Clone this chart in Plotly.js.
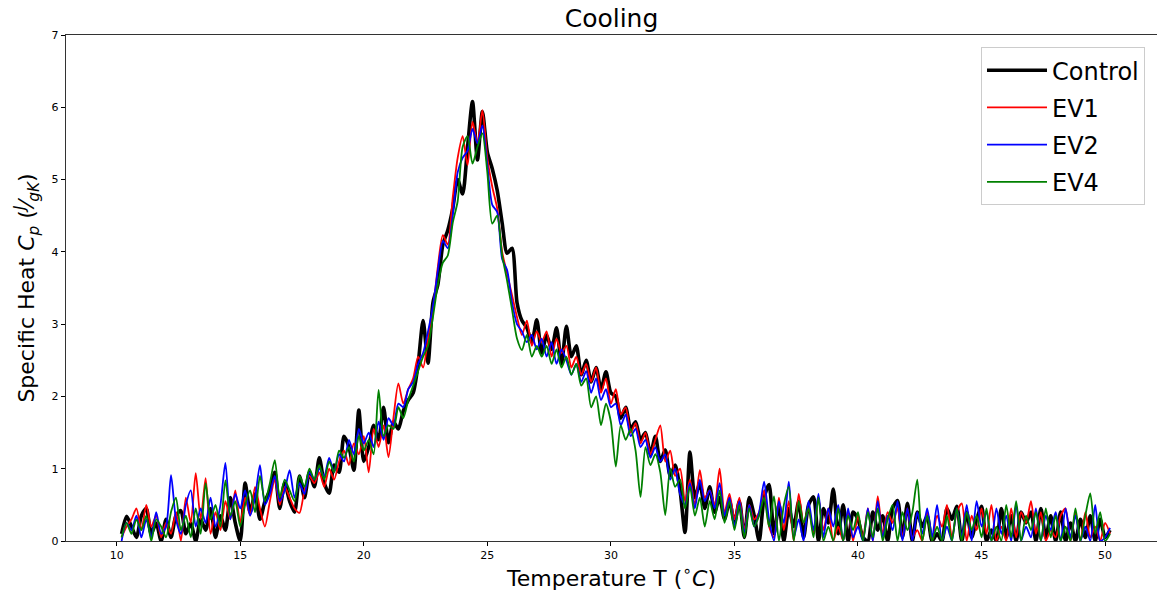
<!DOCTYPE html>
<html>
<head>
<meta charset="utf-8">
<script src="https://cdn.plot.ly/plotly-3.0.1.min.js"></script>
<style>html,body{margin:0;padding:0;background:#fff;}#chart{width:1157px;height:592px;}</style>
</head>
<body>
<div id="chart"></div>
<script>
const temperature = [
10.2,10.4,10.6,10.8,11.0,11.2,11.4,11.6,11.8,12.0,12.2,12.4,12.6,12.8,13.0,13.2,13.4,13.6,13.8,14.0,
14.2,14.4,14.6,14.8,15.0,15.2,15.4,15.6,15.8,16.0,16.2,16.4,16.6,16.8,17.0,17.2,17.4,17.6,17.8,18.0,
18.2,18.4,18.6,18.8,19.0,19.2,19.4,19.6,19.8,20.0,20.2,20.4,20.6,20.8,21.0,21.2,21.4,21.6,21.8,22.0,
22.2,22.4,22.6,22.8,23.0,23.2,23.4,23.6,23.8,24.0,24.2,24.4,24.6,24.8,25.0,25.2,25.4,25.6,25.8,26.0,
26.2,26.4,26.6,26.8,27.0,27.2,27.4,27.6,27.8,28.0,28.2,28.4,28.6,28.8,29.0,29.2,29.4,29.6,29.8,30.0,
30.2,30.4,30.6,30.8,31.0,31.2,31.4,31.6,31.8,32.0,32.2,32.4,32.6,32.8,33.0,33.2,33.4,33.6,33.8,34.0,
34.2,34.4,34.6,34.8,35.0,35.2,35.4,35.6,35.8,36.0,36.2,36.4,36.6,36.8,37.0,37.2,37.4,37.6,37.8,38.0,
38.2,38.4,38.6,38.8,39.0,39.2,39.4,39.6,39.8,40.0,40.2,40.4,40.6,40.8,41.0,41.2,41.4,41.6,41.8,42.0,
42.2,42.4,42.6,42.8,43.0,43.2,43.4,43.6,43.8,44.0,44.2,44.4,44.6,44.8,45.0,45.2,45.4,45.6,45.8,46.0,
46.2,46.4,46.6,46.8,47.0,47.2,47.4,47.6,47.8,48.0,48.2,48.4,48.6,48.8,49.0,49.2,49.4,49.6,49.8,50.0,
50.2];

const control = [
0.10,0.34,0.20,0.05,0.35, 0.45,0.10,0.25,0.00,0.30, 0.05,0.35,0.42,0.10,0.25, 0.00,0.30,0.15,0.45,0.05,
0.35,0.15,0.60,0.25,0.00, 0.80,0.40,0.65,0.30,0.55, 0.70,0.95,0.45,0.80,0.55, 0.40,0.90,0.60,0.95,0.75,
1.15,0.80,0.66,1.05,0.95, 1.45,1.30,0.98,1.81,1.10, 1.30,1.60,1.40,1.85,1.36, 1.65,1.55,1.80,1.95,2.05,
2.45,3.05,2.46,3.30,3.55, 4.10,4.30,4.60,5.00,4.80, 5.45,6.08,5.27,5.94,5.38, 5.15,4.85,4.40,3.98,4.05,
3.30,3.05,2.95,2.75,3.06, 2.60,2.85,2.65,2.95,2.45, 2.97,2.55,2.70,2.30,2.50, 2.20,2.40,2.10,2.34,2.05,
2.00,1.70,1.85,1.55,1.65, 1.40,1.50,1.20,1.45,1.10, 1.26,0.90,1.05,0.70,0.12, 1.23,0.60,0.80,0.45,0.75,
0.40,0.60,0.30,0.55,0.25, 0.55,0.05,0.60,0.35,0.00, 0.60,0.78,0.10,0.50,0.00, 0.45,0.20,0.55,0.05,0.50,
0.61,0.00,0.45,0.25,0.72, 0.10,0.50,0.00,0.40,0.30, 0.05,0.00,0.40,0.15,0.35, 0.00,0.45,0.56,0.05,0.52,
0.00,0.40,0.20,0.35,0.00, 0.10,0.00,0.45,0.30,0.48, 0.00,0.40,0.05,0.30,0.48, 0.00,0.15,0.00,0.45,0.05,
0.35,0.00,0.40,0.25,0.40, 0.00,0.45,0.05,0.35,0.00, 0.40,0.00,0.25,0.00,0.30, 0.05,0.35,0.00,0.30,0.05,
0.15];

const ev1 = [
0.05,0.20,0.30,0.45,0.15, 0.50,0.20,0.35,0.05,0.25, 0.10,0.40,0.00,0.60,0.25, 0.94,0.30,0.87,0.10,0.40,
0.15,0.55,0.30,0.70,0.25, 0.60,0.35,0.75,0.45,0.20, 0.55,0.85,0.50,0.75,0.60, 0.45,0.39,0.70,0.90,0.80,
0.95,0.75,1.00,0.85,1.10, 1.25,1.05,1.35,1.20,1.45, 0.95,1.55,1.30,1.60,1.16, 1.70,2.18,1.90,2.10,2.25,
2.55,2.40,2.80,3.20,3.80, 4.23,4.10,4.75,5.30,5.60, 5.20,5.80,5.50,5.96,5.30, 4.90,4.60,4.00,3.70,3.40,
3.10,2.85,3.05,2.70,2.90, 2.75,2.90,2.55,2.80,2.60, 2.70,2.40,2.55,2.30,2.45, 2.20,2.40,2.05,2.25,1.90,
2.10,1.75,1.85,1.50,1.63, 1.35,1.50,1.20,1.40,1.60, 1.10,1.25,0.90,1.00,0.55, 0.85,0.50,0.98,0.60,0.70,
0.50,1.00,0.40,0.65,0.30, 0.60,0.15,0.50,0.30,0.40, 0.70,0.20,0.05,0.60,0.15, 0.55,0.00,0.65,0.25,0.45,
0.10,0.60,0.15,0.45,0.00, 0.20,0.00,0.40,0.00,0.35, 0.05,0.45,0.00,0.62,0.10, 0.40,0.25,0.45,0.05,0.45,
0.05,0.15,0.00,0.40,0.00, 0.35,0.20,0.50,0.05,0.40, 0.52,0.00,0.35,0.15,0.45, 0.10,0.50,0.00,0.20,0.00,
0.45,0.05,0.40,0.25,0.55, 0.10,0.40,0.00,0.15,0.05, 0.35,0.45,0.00,0.40,0.00, 0.40,0.05,0.20,0.00,0.25,
0.10];

const ev2 = [
0.00,0.25,0.15,0.35,0.05, 0.30,0.05,0.40,0.10,0.20, 0.91,0.30,0.10,0.50,0.70, 0.20,0.45,0.25,0.60,0.20,
0.50,1.08,0.30,0.65,0.45, 0.70,0.35,0.60,1.05,0.50, 0.65,0.90,0.55,0.70,0.98, 0.60,0.80,0.65,0.95,0.85,
1.00,0.90,1.15,0.95,1.20, 1.10,1.40,1.20,1.55,1.35, 1.50,1.30,1.65,1.40,1.70, 1.60,1.90,1.85,2.10,2.20,
2.45,2.60,2.90,3.25,3.75, 4.15,4.05,4.50,5.10,5.30, 5.40,5.70,5.50,5.75,5.20, 4.65,4.55,3.90,3.75,3.30,
3.00,2.90,2.75,2.85,2.65, 2.80,2.55,2.75,2.45,2.65, 2.50,2.30,2.45,2.20,2.35, 2.05,2.25,1.95,2.10,1.85,
1.90,1.60,1.75,1.45,1.55, 1.30,1.40,1.15,1.30,1.10, 1.20,0.85,1.00,0.65,0.50, 0.80,0.45,0.85,0.55,0.70,
0.45,0.80,0.35,0.60,0.20, 0.55,0.10,0.50,0.20,0.40, 0.82,0.30,0.00,0.55,0.25, 0.82,0.05,0.30,0.00,0.55,
0.15,0.65,0.05,0.45,0.20, 0.50,0.00,0.45,0.05,0.20, 0.00,0.45,0.00,0.55,0.05, 0.35,0.15,0.55,0.00,0.45,
0.00,0.40,0.10,0.45,0.05, 0.50,0.00,0.20,0.00,0.45, 0.05,0.50,0.00,0.55,0.20, 0.40,0.00,0.45,0.10,0.35,
0.00,0.50,0.00,0.20,0.05, 0.45,0.00,0.35,0.15,0.40, 0.00,0.45,0.05,0.35,0.00, 0.20,0.00,0.50,0.00,0.05,
0.18];

const ev4 = [
0.05,0.25,0.10,0.30,0.15, 0.35,0.00,0.30,0.20,0.05, 0.40,0.60,0.15,0.35,0.05, 0.45,0.10,0.80,0.30,0.50,
0.20,0.84,0.35,0.55,0.20, 0.50,0.70,0.40,0.90,0.55, 0.80,1.12,0.60,0.85,0.70, 0.55,0.90,0.75,1.00,0.85,
1.05,0.85,1.10,0.95,1.25, 1.15,1.30,1.10,1.45,1.25, 1.40,1.20,2.09,1.45,1.60, 1.55,1.85,1.70,1.95,2.15,
2.35,2.55,2.70,3.10,3.55, 3.85,3.95,4.40,4.70,5.45, 5.60,5.22,5.45,5.64,5.10, 4.39,4.50,3.95,3.60,3.20,
2.80,2.64,2.85,2.55,2.70, 2.55,2.70,2.45,2.65,2.40, 2.55,2.30,2.45,2.15,2.25, 1.85,2.00,1.60,1.90,1.65,
1.03,1.60,1.40,1.55,1.25, 0.61,1.30,1.05,1.20,0.95, 0.36,1.00,0.75,0.85,0.45, 0.75,0.35,0.60,0.20,0.55,
0.30,0.70,0.25,0.55,0.15, 0.50,0.05,0.45,0.20,0.35, 0.60,0.20,0.62,0.00,0.50, 0.75,0.00,0.55,0.25,0.45,
0.05,0.60,0.00,0.20,0.00, 0.45,0.00,0.35,0.15,0.40, 0.00,0.40,0.05,0.45,0.00, 0.30,0.50,0.00,0.40,0.15,
0.40,0.85,0.00,0.35,0.00, 0.20,0.00,0.35,0.00,0.45, 0.00,0.40,0.15,0.35,0.05, 0.45,0.00,0.20,0.00,0.50,
0.05,0.55,0.00,0.35,0.15, 0.40,0.00,0.45,0.05,0.35, 0.00,0.20,0.00,0.45,0.00, 0.35,0.66,0.10,0.40,0.00,
0.10];

const seriesNames = ['Control', 'EV1', 'EV2', 'EV4'];
const xTicks = [10, 15, 20, 25, 30, 35, 40, 45, 50];
const yTicks = [0, 1, 2, 3, 4, 5, 6, 7];

const font = 'DejaVu Sans, sans-serif';
function tr(y, name, color, width) {
  return {x: temperature, y: y, name: name, legendgroup: name, type: 'scatter', mode: 'lines',
    line: {color: color, width: width, shape: 'spline', smoothing: 0.7}};
}
const data = [
  tr(control, seriesNames[0], '#000000', 3.6),
  tr(ev1, seriesNames[1], '#ff0000', 1.8),
  tr(ev2, seriesNames[2], '#0000ff', 1.8),
  tr(ev4, seriesNames[3], '#008000', 1.8)
];

const layout = {
  width: 1157, height: 592,
  margin: {l: 66, r: 0, t: 35, b: 51},
  paper_bgcolor: '#ffffff', plot_bgcolor: '#ffffff',
  font: {family: font, color: '#000'},
  showlegend: true,
  title: {text: 'Cooling', font: {size: 25, family: font, color: '#000'}, x: 0.5, xref: 'paper', y: 0.97, yanchor: 'middle'},
  xaxis: {
    range: [7.95, 52.1], tickvals: xTicks, ticktext: xTicks.map(String),
    ticks: 'outside', ticklen: 4, tickcolor: '#000', tickfont: {size: 11, family: font},
    showline: true, linecolor: '#333', linewidth: 1.2, mirror: true,
    showgrid: false, zeroline: false,
    title: {text: 'Temperature T (<sup>∘</sup><i>C</i>)', font: {size: 22, family: font}, standoff: 6}
  },
  yaxis: {
    range: [0, 7], tickvals: yTicks, ticktext: yTicks.map(String),
    ticks: 'outside', ticklen: 4, tickcolor: '#000', tickfont: {size: 11, family: font},
    showline: true, linecolor: '#333', linewidth: 1.2,
    showgrid: false, zeroline: false,
    title: {text: 'Specific Heat <i>C</i><sub><i>p</i></sub> (<sup><i>J</i></sup>⁄<sub><i>gK</i></sub>)', font: {size: 22, family: font}, standoff: 10}
  },
  legend: {
    x: 0.989, xanchor: 'right', y: 0.976, yanchor: 'top',
    bgcolor: 'rgba(255,255,255,0.85)', bordercolor: '#cccccc', borderwidth: 1,
    font: {size: 24, family: font, color: '#000'},
    itemwidth: 60, tracegroupgap: 3
  }
};

Plotly.newPlot('chart', data, layout, {staticPlot: true, displayModeBar: false});
</script>
</body>
</html>
